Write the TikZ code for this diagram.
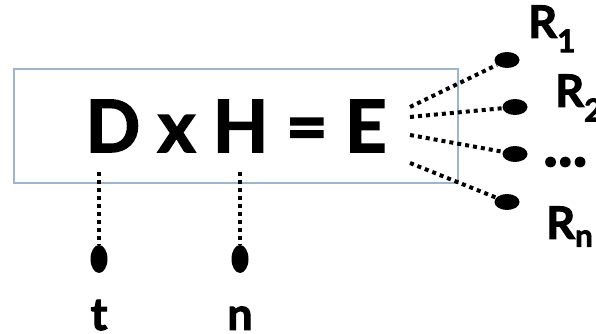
\documentclass[tikz,border=0pt]{standalone}
\usepackage{fontspec}
\setmainfont{Lato}[BoldFeatures={FakeBold=2.2}]
\usetikzlibrary{shapes.geometric}
\begin{document}
\begin{tikzpicture}[x=1pt,y=1pt,
  dotline/.style={line width=4pt, dash pattern=on 4pt off 4pt},
  blob/.style={ellipse, fill=black, inner sep=0pt},
  hblob/.style={blob, minimum width=25pt, minimum height=16pt},
  vblob/.style={blob, minimum width=17pt, minimum height=28pt},
  big/.style={font=\bfseries\fontsize{45}{45}\selectfont, inner sep=0pt},
  lbl/.style={big, anchor=base west},
]
\useasboundingbox (0,0) rectangle (596,334);
\definecolor{boxblue}{HTML}{9DB5CF}
\node[draw=boxblue, line width=1.2pt, minimum width=444pt, minimum height=114pt, inner sep=0pt] (box) at (236,208) {};
\node[font=\bfseries\fontsize{72}{72}\selectfont, inner sep=0pt, anchor=base] (eq) at (236,182) {D x H = E};
% right blobs
\node[hblob] (r1) at (507,274) {};
\node[hblob] (r2) at (515,227) {};
\node[hblob] (r3) at (515,180) {};
\node[hblob] (r4) at (507,132) {};
\coordinate (e1) at (410,227);
\coordinate (e2) at (410,217);
\coordinate (e3) at (410,199);
\coordinate (e4) at (410,171);
\draw[dotline] (e1) -- (r1);
\draw[dotline] (e2) -- (r2);
\draw[dotline] (e3) -- (r3);
\draw[dotline] (e4) -- (r4);
% bottom blobs
\node[vblob] (tb) at (99,75) {};
\node[vblob] (nb) at (240,75) {};
\coordinate (td) at (99,162);
\coordinate (nd) at (240,162);
\draw[dotline] (td) -- (tb);
\draw[dotline] (nd) -- (nb);
% labels
\node[lbl] (R1) at (528,296) {R\textsubscript{1}};
\node[lbl] (R2) at (555,227) {R\textsubscript{2}};
\node[font=\bfseries\fontsize{62}{62}\selectfont, inner sep=0pt, anchor=west] (dots) at (543,172) {...};
\node[lbl] (Rn) at (546,95) {R\textsubscript{n}};
\node[big, anchor=base] (tl) at (99,4) {t};
\node[big, anchor=base] (nl) at (240,4) {n};
\end{tikzpicture}
\end{document}
